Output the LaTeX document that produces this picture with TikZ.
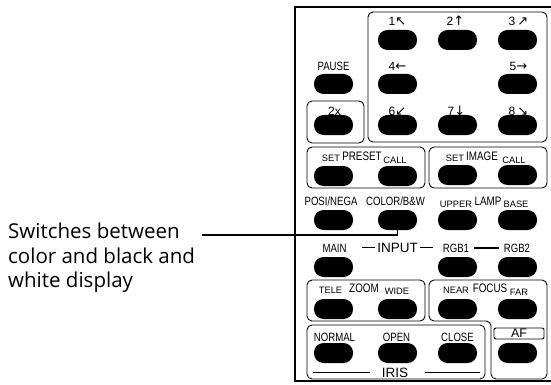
\documentclass[tikz,border=0pt]{standalone}
\usepackage{fontspec}
\setmainfont{Liberation Sans}
\newfontfamily\narrowfont{Liberation Sans}[FakeStretch=0.8]
\newfontfamily\arrowfont{DejaVu Sans}
\newfontfamily\notefont{Open Sans}
\usepackage{tikz}
\usetikzlibrary{positioning}

\begin{document}
\begin{tikzpicture}[
    x=1pt, y=-1pt,
    % Styles
    key/.style={rectangle, rounded corners=9.5pt, fill=black, minimum width=39pt, minimum height=20pt, inner sep=0pt},
    panel/.style={draw=black, line width=0.9pt, rounded corners=5pt},
    keylbl/.style={inner sep=0pt, anchor=base, font=\narrowfont\fontsize{12}{12}\selectfont},
    sublbl/.style={inner sep=0pt, anchor=base, font=\fontsize{9.3}{9.3}\selectfont},
    grplbl/.style={inner sep=0pt, anchor=base, font=\narrowfont\fontsize{12.3}{12.3}\selectfont},
    bigtxt/.style={inner sep=0pt, anchor=base, font=\fontsize{13.5}{13.5}\selectfont},
    digit/.style={inner sep=0pt, anchor=base, font=\fontsize{12}{12}\selectfont},
    rulebar/.style={line width=1.3pt},
    leader/.style={line width=1.4pt}
]
    \useasboundingbox (0,0) rectangle (551,385);

    % 1. THE FRAME AND PANELS
    \draw[line width=2pt] (295,7) rectangle (556,381);
    \draw[panel] (368,12) rectangle (547,142);
    \draw[panel] (307,101) rectangle (364,143);
    \draw[panel] (307,147) rectangle (425,188);
    \draw[panel] (429,147) rectangle (547,188);
    \draw[panel] (307,280) rectangle (425,321);
    \draw[panel] (429,280) -- (547,280) -- (547,379) -- (491,379) -- (491,321) -- (429,321) -- cycle;
    \draw[panel] (307,325) rectangle (485,379);

    % 2. DIRECTION KEYS
    \node[digit] (lone) at (397.5,26) {1{\arrowfont\fontsize{13}{13}\selectfont↖}};
    \node[digit] (ltwo) at (455.5,26) {2{\arrowfont\fontsize{13}{13}\selectfont↑}};
    \node[digit] (lthree) at (518.5,26) {3\,{\arrowfont\fontsize{13}{13}\selectfont↗}};
    \node[key] (kone) at (397.5,40) {};
    \node[key] (ktwo) at (457.5,40) {};
    \node[key] (kthree) at (517.5,40) {};

    \node[keylbl] (lpause) at (333.5,71) {PAUSE};
    \node[digit] (lfour) at (397.5,71) {4{\arrowfont\fontsize{13}{13}\selectfont←}};
    \node[digit] (lfive) at (518.5,71) {5{\arrowfont\fontsize{13}{13}\selectfont→}};
    \node[key] (kpause) at (333.5,84) {};
    \node[key] (kfour) at (397.5,84) {};
    \node[key] (kfive) at (517.5,84) {};

    \node[digit] (ldouble) at (334.5,116) {2x};
    \node[digit] (lsix) at (397.5,116) {6{\arrowfont\fontsize{13}{13}\selectfont↙}};
    \node[digit] (lseven) at (456.5,116) {7{\arrowfont\fontsize{13}{13}\selectfont↓}};
    \node[digit] (leight) at (518.5,116) {8\,{\arrowfont\fontsize{13}{13}\selectfont↘}};
    \node[key] (kdouble) at (333.5,125) {};
    \node[key] (ksix) at (397.5,125) {};
    \node[key] (kseven) at (457.5,125) {};
    \node[key] (keight) at (517.5,125) {};

    % 3. PRESET / IMAGE
    \node[sublbl] (lpset) at (331,161) {SET};
    \node[grplbl] (lpreset) at (362,160) {PRESET};
    \node[sublbl] (lpcall) at (395,163) {CALL};
    \node[sublbl] (liset) at (455,161) {SET};
    \node[grplbl] (limage) at (482,160) {IMAGE};
    \node[sublbl] (licall) at (514,163) {CALL};
    \node[key] (kpset) at (333.5,176) {};
    \node[key] (kpcall) at (397.5,176) {};
    \node[key] (kiset) at (457.5,175) {};
    \node[key] (kicall) at (517.5,175) {};

    % 4. POSI/NEGA, COLOR, LAMP
    \node[keylbl] (lposi) at (331,205) {POSI/NEGA};
    \node[keylbl] (lcolor) at (395.5,205) {COLOR/B\&W};
    \node[sublbl] (lupper) at (456,207) {UPPER};
    \node[grplbl] (llamp) at (488,205) {LAMP};
    \node[sublbl] (lbase) at (516,207) {BASE};
    \node[key] (kposi) at (333.5,220) {};
    \node[key] (kcolor) at (397.5,220) {};
    \node[key] (kupper) at (457.5,220) {};
    \node[key] (kbase) at (517.5,220) {};

    % 5. INPUT
    \node[keylbl] (lmain) at (334.5,252) {MAIN};
    \node[bigtxt] (linput) at (397.5,252) {INPUT};
    \node[keylbl] (lrgbone) at (456,252) {RGB1};
    \node[keylbl] (lrgbtwo) at (517,252) {RGB2};
    \draw[rulebar] ([xshift=-2pt]linput.west) -- ++(-13,0);
    \draw[rulebar] ([xshift=2pt]linput.east) -- ++(13,0);
    \draw[rulebar, shorten <=5pt, shorten >=5pt] (lrgbone.east) -- (lrgbtwo.west);
    \node[key] (kmain) at (333.5,267) {};
    \node[key] (krgbone) at (457.5,267) {};
    \node[key] (krgbtwo) at (517.5,267) {};

    % 6. ZOOM / FOCUS
    \node[sublbl] (ltele) at (330.5,293) {TELE};
    \node[grplbl] (lzoom) at (364,292) {ZOOM};
    \node[sublbl] (lwide) at (397,294) {WIDE};
    \node[sublbl] (lnear) at (456,293) {NEAR};
    \node[grplbl] (lfocus) at (490,292) {FOCUS};
    \node[sublbl] (lfar) at (519,295) {FAR};
    \node[key] (ktele) at (333.5,309) {};
    \node[key] (kwide) at (397.5,309) {};
    \node[key] (knear) at (457.5,309) {};
    \node[key] (kfar) at (517.5,309) {};

    % 7. IRIS / AF
    \node[keylbl] (lnormal) at (334.5,341) {NORMAL};
    \node[keylbl] (lopen) at (396.5,341) {OPEN};
    \node[keylbl] (lclose) at (457.5,341) {CLOSE};
    \node[draw, rounded corners=2pt, line width=0.9pt, minimum width=50pt, minimum height=11pt, inner sep=0pt, font=\fontsize{12.5}{12.5}\selectfont] (laf) at (519,333.5) {AF};
    \node[key] (knormal) at (333.5,353) {};
    \node[key] (kopen) at (397.5,353) {};
    \node[key] (kclose) at (457.5,353) {};
    \node[key] (kaf) at (517.5,353) {};
    \node[bigtxt] (liris) at (395,377) {IRIS};
    \draw[rulebar] ([xshift=-12pt]liris.west) -- ++(-57,0);
    \draw[rulebar] ([xshift=17pt]liris.east) -- ++(55,0);

    % 8. CALLOUT
    \node[anchor=north west, inner sep=0pt, align=left, font=\notefont\fontsize{20.5}{24.5}\selectfont] (note) at (8,223) {Switches between\\color and black and\\white display};
    \coordinate (lead) at (202,235);
    \draw[leader] (lead) -| (kcolor.south);

\end{tikzpicture}
\end{document}
